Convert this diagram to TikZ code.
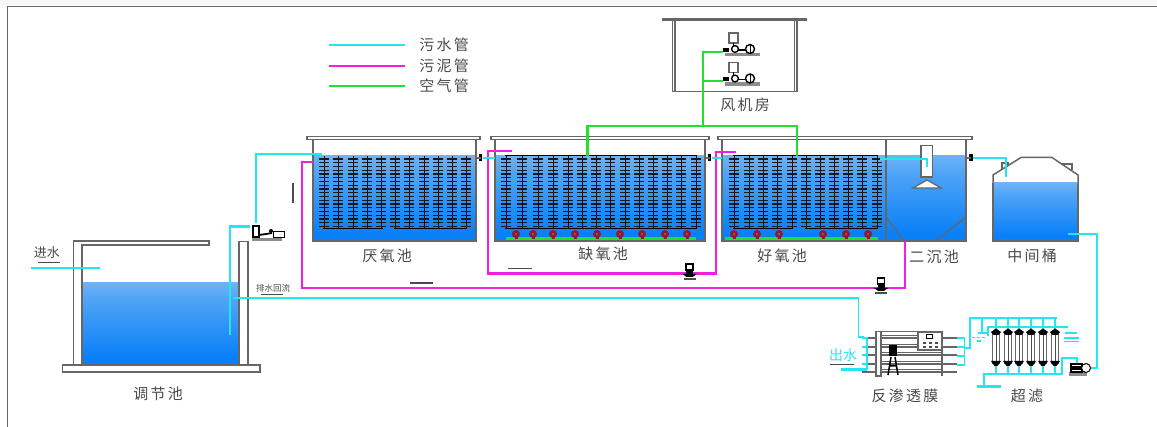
\documentclass[tikz,border=0pt]{standalone}
\usepackage{fontspec}
\newfontfamily\cjk[LetterSpace=15]{Noto Sans CJK SC}
\newfontfamily\cjktight{Noto Sans CJK SC}
\definecolor{SewageC}{HTML}{22E6F0}
\definecolor{SludgeC}{HTML}{F020E0}
\definecolor{AirC}{HTML}{22E030}
\definecolor{WallC}{HTML}{666666}
\definecolor{TextC}{HTML}{4A4A4A}
\definecolor{HeadC}{HTML}{A01030}
\definecolor{WTop}{HTML}{B4D8FC}
\definecolor{WMid}{HTML}{4FA4F6}
\definecolor{WBot}{HTML}{0A80F8}
\pgfdeclareverticalshading{waterfill}{100bp}{color(0bp)=(WBot); color(30bp)=(WBot); color(65bp)=(WMid); color(100bp)=(WTop)}
\tikzset{
  sewage/.style={draw=SewageC,line width=2.4pt},
  sewagethin/.style={draw=SewageC,line width=1.6pt},
  sludge/.style={draw=SludgeC,line width=2.4pt},
  air/.style={draw=AirC,line width=2.6pt},
  wallbox/.style={draw=WallC,fill=white,line width=1.5pt},
  wallline/.style={draw=WallC,line width=1.8pt},
  water/.style={shading=waterfill},
  label/.style={font=\cjk\fontsize{15}{15}\selectfont,text=TextC,inner sep=0pt},
  tinylabel/.style={font=\cjktight\fontsize{8.5}{8.5}\selectfont,text=TextC,inner sep=0pt},
  smalllabel/.style={font=\cjktight\fontsize{13}{13}\selectfont,text=TextC,inner sep=0pt},
  flowmark/.style={draw=TextC,line width=1.1pt},
  diffuser/.pic={
    \draw[black,line width=1pt] (0,0) -- (0,73);
    \foreach \t in {0,...,18}{\draw[black!90,line width=1.4pt] (-4.7,3+3.75*\t) -- (4.7,3+3.75*\t);}
  },
  aerator/.pic={
    \fill[HeadC] (0,0) circle (4);
    \fill[HeadC] (-1.5,2) rectangle (1.5,5);
    \fill[black!60] (-1,-1) rectangle (1,1);
  },
  blower/.pic={
    \draw[WallC,fill=white,line width=1.2pt] (-6,-16) rectangle (3,-6);
    \draw[black,line width=1.4pt] (-1.5,-6) -- (-1.5,-3);
    \fill[black!45] (-10,4) rectangle (25,7.5);
    \draw[black,fill=white,line width=1.4pt] (0,0) circle (3.4);
    \draw[black,fill=white,line width=1.4pt] (15,0) circle (4.5);
    \draw[black,line width=1pt] (15,-4) -- (15,4);
    \draw[black,line width=1.6pt] (3,1) -- (11,1);
    \fill[black] (-12,-1) rectangle (-6,3);
  },
  feedpump/.pic={
    \fill[black!45] (0,12) rectangle (30,15.5);
    \draw[black,fill=white,line width=1.2pt] (1,0) rectangle (7,11);
    \draw[black,line width=1.8pt] (7,9) -- (14,8) -- (20,7);
    \fill[black] (19,5) circle (2);
    \draw[black,fill=white,line width=0.9pt] (21,5) rectangle (32,11);
  },
  sludgepump/.pic={
    \draw[black,fill=white,line width=1.5pt] (-3.5,-10) rectangle (3.5,-4);
    \fill[black] (-3.5,-4) rectangle (3.5,1);
    \fill[black] (-7,0) -- (7,0) -- (3,3) -- (-3,3) -- cycle;
    \fill[black!70] (-6,4) rectangle (6,6.5);
  },
  valve/.pic={
    \fill[black] (-1.8,-3.5) rectangle (1.8,3.5);
    \fill[black!60] (-4.5,-1.2) rectangle (0,1.2);
  },
  membrane/.pic={
    \draw[WallC,fill=white,line width=1.5pt] (-3.5,2) rectangle (3.5,32);
    \draw[black!70,line width=0.8pt] (0,2) -- (0,32);
    \fill[black] (-5,1) -- (0,-2.5) -- (5,1) -- (2.5,4) -- (-2.5,4) -- cycle;
    \fill[black] (-5,30) -- (5,30) -- (1.5,35) -- (-1.5,35) -- cycle;
  },
}
\begin{document}
\begin{tikzpicture}[x=1pt,y=-1pt]
\useasboundingbox (0,0) rectangle (1157,427);
\fill[white] (0,0) rectangle (1157,427);
\fill[black!3] (0,0) rectangle (1157,5);
% outer frame
\draw[WallC,line width=1.8pt] (7.5,427) -- (7.5,6.5) -- (1157,6.5);

% ---------- named points of the pipes
\coordinate (inA) at (31,268);
\coordinate (inB) at (100,268);
\coordinate (suctionEnd) at (230,335);
\coordinate (feedIn) at (250,226.5);
\coordinate (feedOut) at (256,223);
\coordinate (tankOneIn) at (316,154);
\coordinate (returnTee) at (233,298);
\coordinate (roIn) at (864,337);
\coordinate (sludgeA) at (313,162);
\coordinate (sludgeB) at (905,241);
\coordinate (sludgeC) at (512,151);
\coordinate (sludgeD) at (736,152);
\coordinate (blowUp) at (703,126);
\coordinate (blowOne) at (723,52);
\coordinate (blowTwo) at (723,81);
\coordinate (airA) at (587.5,156);
\coordinate (airB) at (797,156);
\coordinate (settleIn) at (880,159);
\coordinate (settleOut) at (927,167);
\coordinate (midIn) at (973,158);
\coordinate (midDrop) at (1006,177);
\coordinate (midOut) at (1068,234);
\coordinate (ufPump) at (1088,368);

% ---------- regulating tank
\shade[water] (82,283) rectangle (239,365);
\draw[wallbox] (62.5,365) rectangle (260,372);
\draw[wallline] (73.5,365) -- (73.5,241) -- (209,241) -- (209,245) -- (82,245) -- (82,365) -- (239,365) -- (239,241.5) -- (248,241.5) -- (248,365);

% ---------- anoxic-side tanks
\shade[water] (313,156) rectangle (476,241);
\shade[water] (495,156) rectangle (705,241);
\shade[water] (722,156) rectangle (966,241);
\draw[wallbox] (307,136.5) rectangle (480,139.5);
\draw[wallbox] (491,136.5) rectangle (709,139.5);
\draw[wallbox] (718,136.5) rectangle (972,139.5);
\draw[wallline] (313,139.5) -- (313,241) -- (476,241) -- (476,139.5);
\draw[wallline] (495,139.5) -- (495,241) -- (705,241) -- (705,139.5);
\draw[wallline] (722,139.5) -- (722,241) -- (966,241) -- (966,139.5);
\draw[wallline] (886,139.5) -- (886,241);

% diffusers
\foreach \x in {324,338,353,367,381,395,409,424,438,452,466}{\pic at (\x,156) {diffuser};}
\draw[black,line width=1pt] (323,229) -- (383,229) (394,229) -- (467,229);
\foreach \x in {506,522,538,553,568,582,596,610,625,639,653,667,681,696}{\pic at (\x,156) {diffuser};}
\draw[black,line width=1pt] (505,229) -- (697,229) (505,156) -- (697,156);
\foreach \x in {734,749,763,777,792,806,820,834,848,862,877}{\pic at (\x,156) {diffuser};}
\draw[black,line width=1pt] (733,229) -- (793,229) (805,229) -- (878,229) (733,156) -- (878,156);
% aeration lines and heads
\draw[air] (506,238.5) -- (696,238.5);
\draw[air] (725,238.5) -- (878,238.5);
\foreach \x in {516,533,553,575,597,620,642,665,687}{\pic at (\x,234) {aerator};}
\foreach \x in {734,757,779,823,846,868}{\pic at (\x,234) {aerator};}

% ---------- settling tank internals
\draw[WallC,fill=white,line width=1.4pt] (921,145.5) rectangle (932.5,177);
\draw[WallC,fill=white,line width=1.2pt] (913,188) -- (927,180) -- (941,188) -- cycle;
\draw[WallC,line width=1.3pt] (886,217) -- (904,241) (966,217) -- (935,241);

% ---------- intermediate tank
\draw[WallC,line width=1.4pt,fill=white] (1002,170) rectangle (1008,163);
\draw[WallC,line width=1.4pt,fill=white] (1062,170) -- (1062,164) -- (1072,164) -- (1072,170);
\draw[wallbox] (993,175) -- (1021,157.5) -- (1052,157.5) -- (1078,175) -- (1078,241) -- (993,241) -- cycle;
\shade[water] (993.7,183) rectangle (1077.3,240.3);
\draw[wallline] (993,183) -- (993,241) -- (1078,241) -- (1078,183);

% ---------- blower room
\draw[wallbox] (663,18.5) rectangle (806,20);
\draw[WallC,line width=1.3pt] (672.5,20) -- (672.5,91.5) -- (797,91.5) -- (797,20);
\draw[WallC,line width=1.3pt] (675,20) -- (675,91.5) (794.5,20) -- (794.5,91.5);
\pic at (735,49) {blower};
\pic at (735,78.5) {blower};

% ---------- pipes
\draw[sewage] (inA) -- (inB);
\draw[sewage] (suctionEnd) |- (feedIn);
\draw[sewage] (feedOut) |- (tankOneIn);
\draw[sewagethin] (tankOneIn) -- ++(5,0) -- ++(0,2);
\draw[sewagethin] (returnTee) -- (858.5,298) |- (roIn);
\draw[sludge] (sludgeA) -| (302,288) -| (sludgeB);
\draw[sludge] (sludgeC) -| (488,273.5) -| (716,152) -- (sludgeD);
\draw[air] (blowOne) -| (blowUp);
\draw[air] (blowTwo) -- (703,81);
\draw[air] (airA) |- (blowUp) -| (airB);
\draw[sewagethin,line width=1.1pt] (483,158) -- (495,158);
\draw[sewagethin,line width=1.1pt] (712,158) -- (722,158);
\draw[sewagethin] (settleIn) -| (settleOut);
\draw[sewage] (midIn) -| (midDrop);
\draw[sewagethin] (midOut) -- (1097,234) |- (ufPump);

\pic at (480.5,158) {valve};
\pic at (709.5,158) {valve};
\pic at (971,158) {valve};
\pic at (252,226) {feedpump};
\pic at (689.5,274) {sludgepump};
\pic at (881,288) {sludgepump};

% ---------- reverse osmosis rack
\foreach \y in {338,347,355,364,372}{
  \draw[WallC,line width=1.6pt] (862,\y) -- (957,\y);
  \draw[WallC,line width=0.7pt] (876,\y-3) -- (942,\y-3);
}
\draw[WallC,line width=1.5pt] (876,331.5) -- (942,331.5);
\draw[WallC,fill=white,line width=1.3pt] (876,331.5) rectangle (881,376);
\draw[WallC,line width=1.3pt] (942,331.5) -- (942,376);
\draw[WallC,fill=white,line width=1.3pt] (918,332) rectangle (942,350);
\draw[black,line width=1pt] (926,335) rectangle (932,339);
\foreach \x in {923,929,935}{\fill[black!70] (\x,342) rectangle ++(3,2); \fill[black!70] (\x,346) rectangle ++(3,2);}
\fill[black] (889,345) rectangle (897,356);
\draw[black,line width=1.5pt] (891,357) -- (888,375) (895,357) -- (898,375) (889,366) -- (897,366);
\draw[sewagethin] (867,337) -- (867,370);
\draw[sewage] (841,369.5) -- (867,369.5);
\draw[sewagethin] (862,338) -- (867,338) (862,347) -- (867,347) (862,355) -- (867,355) (862,364) -- (867,364);
\draw[sewagethin] (957,338) -- (964.5,338) -- (964.5,365) -- (957,365);
\draw[sewagethin] (957,347) -- (964.5,347) (957,356) -- (964.5,356);
\draw[sewagethin] (964.5,348) -- (970,348) -- (970,318) -- (1057,318);

% ---------- ultrafiltration rack
\draw[sewage] (988,336) -- (988,327) -- (1068,327);
\foreach \x in {996,1008,1019,1031,1043,1055}{
  \draw[sewagethin] (\x,318) -- (\x,332);
  \draw[sewagethin] (\x,362) -- (\x,374);
  \pic at (\x,331) {membrane};
}
\draw[sewage] (984,385.5) -- (984,374) -- (1062,374) -- (1062,358) -- (1077,358) -- (1077,363);
\draw[sewage] (977,386.5) -- (1001,386.5);
\draw[sewagethin] (982,318) -- (982,333);
\draw[sewagethin] (978,333) -- (987,333);
\draw[sewagethin,densely dashed] (972,337.5) -- (986,337.5);
\draw[sewagethin] (977,341) -- (981,341);
\draw[sewage,line width=1.8pt] (1065,333) -- (1077,333) (1064,338) -- (1079,338) (1064,341.5) -- (1079,341.5);
% ultrafiltration pump
\fill[black!45] (1069,372) rectangle (1087,376);
\draw[black,fill=white,line width=1.2pt] (1071,364) rectangle (1082,372);
\fill[black] (1071,366) rectangle (1081,370);
\draw[black,fill=white,line width=1pt] (1086,368) circle (4.5);

% ---------- legend
\coordinate (legA) at (329,45);
\coordinate (legB) at (405,45);
\coordinate (legC) at (329,66);
\coordinate (legD) at (405,66);
\coordinate (legE) at (329,86);
\coordinate (legF) at (405,86);
\draw[sewage] (legA) -- (legB);
\draw[sludge] (legC) -- (legD);
\draw[air] (legE) -- (legF);
\node[label] (legOne) at (444,45) {污水管};
\node[label] (legTwo) at (444,66) {污泥管};
\node[label] (legThree) at (444,86) {空气管};

% ---------- labels
\node[label] (lblRegulate) at (158,394) {调节池};
\node[label] (lblAna) at (387,256) {厌氧池};
\node[label] (lblAnox) at (603,254) {缺氧池};
\node[label] (lblAero) at (782,256) {好氧池};
\node[label] (lblSettle) at (934,257) {二沉池};
\node[label] (lblMid) at (1032,256) {中间桶};
\node[label] (lblBlower) at (745,105) {风机房};
\node[label] (lblRO) at (905,396) {反渗透膜};
\node[label] (lblUF) at (1027,396) {超滤};
\node[smalllabel] (lblIn) at (47,253) {进水};
\node[smalllabel,text=SewageC,font=\cjktight\fontsize{14}{14}\selectfont] (lblOut) at (843,355) {出水};
\node[tinylabel] (lblBack) at (273,288) {排水回流};

% flow marks
\draw[flowmark] (38,262.5) -- (60,262.5);
\draw[flowmark] (261,294.5) -- (283,294.5);
\draw[flowmark] (410,283) -- (433,283);
\draw[flowmark] (508,268.5) -- (532,268.5);
\draw[flowmark] (293,183) -- (293,203);
\draw[flowmark] (830,364.5) -- (854,364.5);
\end{tikzpicture}
\end{document}
